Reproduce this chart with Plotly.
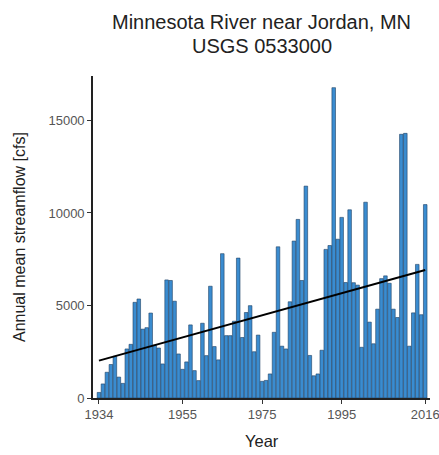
import plotly.graph_objects as go

# Annual mean streamflow, Minnesota River near Jordan, MN (cfs)
years = list(range(1934, 2017))
flow_cfs = [
    300, 760, 1390, 1810, 2250, 1130, 790, 2650, 2900, 5170,   # 1934-1943
    5350, 3720, 3800, 4590, 2850, 2700, 1840, 6380, 6350, 5230,  # 1944-1953
    2380, 1550, 1950, 3950, 1480, 940, 4040, 2290, 6040, 2780,   # 1954-1963
    2060, 7800, 3370, 3370, 4150, 7560, 3270, 4620, 4990, 2500,  # 1964-1973
    3400, 900, 950, 1300, 3550, 8170, 2800, 2650, 5200, 8480,    # 1974-1983
    9650, 6350, 11450, 2300, 1200, 1300, 2580, 8030, 8240, 16770,  # 1984-1993
    8580, 9760, 6240, 10170, 6230, 6100, 2740, 10580, 4100, 2930,  # 1994-2003
    4800, 6450, 6600, 6200, 4800, 4350, 14250, 14300, 2800, 4600,  # 2004-2013
    7220, 4500, 10450,                                             # 2014-2016
]

# Linear trend line endpoints (cfs)
trend_years = [1934, 2016]
trend_cfs = [2020, 6920]

x_ticks = [1934, 1955, 1975, 1995, 2016]
y_ticks = [0, 5000, 10000, 15000]

fig = go.Figure()
fig.add_trace(go.Bar(
    x=years, y=flow_cfs, width=0.9,
    marker=dict(color="#3a8cd0", line=dict(color="#1f3f63", width=0.6)),
    showlegend=False,
))
fig.add_trace(go.Scatter(
    x=trend_years, y=trend_cfs, mode="lines",
    line=dict(color="black", width=2), showlegend=False,
))

font_family = "Liberation Sans, Arial, sans-serif"
W, H = 439, 455
ML, MR, MT, MB = 93, 9, 76, 57
fig.update_layout(
    width=W, height=H,
    margin=dict(l=ML, r=MR, t=MT, b=MB, autoexpand=False),
    paper_bgcolor="white", plot_bgcolor="white",
    font=dict(family=font_family, color="#222222"),
    bargap=0.1,
)

# Title lines and axis titles as annotations (pixel-placed)
annotations = [
    dict(text="Minnesota River near Jordan, MN", x=0.5, xref="paper",
         y=1 + (MT - 22) / (H - MT - MB), yref="paper",
         xanchor="center", yanchor="middle", showarrow=False,
         font=dict(size=20, color="#222222")),
    dict(text="USGS 0533000", x=0.5, xref="paper",
         y=1 + (MT - 46) / (H - MT - MB), yref="paper",
         xanchor="center", yanchor="middle", showarrow=False,
         font=dict(size=20, color="#222222")),
    dict(text="Year", x=0.5, xref="paper",
         y=-(441 - (H - MB)) / (H - MT - MB), yref="paper",
         xanchor="center", yanchor="middle", showarrow=False,
         font=dict(size=16.5, color="#222222")),
    dict(text="Annual mean streamflow [cfs]", textangle=-90,
         x=-(ML - 19) / (W - ML - MR), xref="paper",
         y=0.5, yref="paper",
         xanchor="center", yanchor="middle", showarrow=False,
         font=dict(size=16, color="#222222")),
]
fig.update_layout(annotations=annotations)

fig.update_xaxes(
    range=[1932.5, 2017.2], automargin=False,
    tickvals=x_ticks, ticktext=[str(v) for v in x_ticks],
    ticklabeloverflow="allow",
    showline=True, linecolor="#222222", linewidth=1.6,
    ticks="outside", ticklen=4, tickcolor="#333333", tickwidth=1,
    tickfont=dict(size=13, color="#555555"),
    showgrid=False, zeroline=False,
)
fig.update_yaxes(
    range=[0, 17400], automargin=False,
    tickvals=y_ticks, ticktext=[str(v) for v in y_ticks],
    showline=True, linecolor="#222222", linewidth=1.6,
    ticks="outside", ticklen=4, tickcolor="#333333", tickwidth=1,
    tickfont=dict(size=13, color="#555555"),
    showgrid=False, zeroline=False,
)

fig.write_html("out.html")
